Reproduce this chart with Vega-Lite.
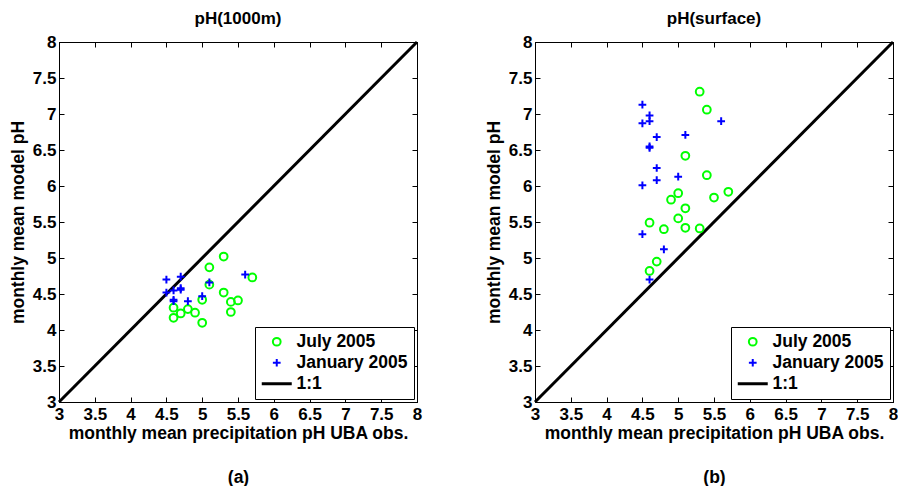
{
  "$schema": "https://vega.github.io/schema/vega-lite/v6.json",
  "autosize": {"type": "pad"},
  "padding": {"left": 8, "top": 9, "right": 0, "bottom": 0},
  "spacing": 60,
  "datasets": {
    "a": [
      {"obs": 5.3, "model": 5.02, "series": "July 2005"},
      {"obs": 5.1, "model": 4.87, "series": "July 2005"},
      {"obs": 5.7, "model": 4.73, "series": "July 2005"},
      {"obs": 5.1, "model": 4.63, "series": "July 2005"},
      {"obs": 5.3, "model": 4.52, "series": "July 2005"},
      {"obs": 5.4, "model": 4.39, "series": "July 2005"},
      {"obs": 5.5, "model": 4.41, "series": "July 2005"},
      {"obs": 5.4, "model": 4.25, "series": "July 2005"},
      {"obs": 5.0, "model": 4.42, "series": "July 2005"},
      {"obs": 4.6, "model": 4.31, "series": "July 2005"},
      {"obs": 4.6, "model": 4.17, "series": "July 2005"},
      {"obs": 4.7, "model": 4.23, "series": "July 2005"},
      {"obs": 4.8, "model": 4.29, "series": "July 2005"},
      {"obs": 4.9, "model": 4.24, "series": "July 2005"},
      {"obs": 5.0, "model": 4.10, "series": "July 2005"},
      {"obs": 4.5, "model": 4.70, "series": "January 2005"},
      {"obs": 4.7, "model": 4.74, "series": "January 2005"},
      {"obs": 4.5, "model": 4.52, "series": "January 2005"},
      {"obs": 4.6, "model": 4.55, "series": "January 2005"},
      {"obs": 4.7, "model": 4.58, "series": "January 2005"},
      {"obs": 4.6, "model": 4.40, "series": "January 2005"},
      {"obs": 4.8, "model": 4.40, "series": "January 2005"},
      {"obs": 5.1, "model": 4.66, "series": "January 2005"},
      {"obs": 5.0, "model": 4.47, "series": "January 2005"},
      {"obs": 5.6, "model": 4.77, "series": "January 2005"},
      {"obs": 4.6, "model": 4.42, "series": "January 2005"},
      {"obs": 4.7, "model": 4.56, "series": "January 2005"}
    ],
    "b": [
      {"obs": 5.3, "model": 7.31, "series": "July 2005"},
      {"obs": 5.4, "model": 7.06, "series": "July 2005"},
      {"obs": 5.1, "model": 6.42, "series": "July 2005"},
      {"obs": 5.4, "model": 6.15, "series": "July 2005"},
      {"obs": 5.7, "model": 5.92, "series": "July 2005"},
      {"obs": 5.5, "model": 5.84, "series": "July 2005"},
      {"obs": 5.0, "model": 5.90, "series": "July 2005"},
      {"obs": 4.9, "model": 5.81, "series": "July 2005"},
      {"obs": 5.1, "model": 5.69, "series": "July 2005"},
      {"obs": 5.0, "model": 5.55, "series": "July 2005"},
      {"obs": 4.6, "model": 5.49, "series": "July 2005"},
      {"obs": 4.8, "model": 5.40, "series": "July 2005"},
      {"obs": 5.1, "model": 5.42, "series": "July 2005"},
      {"obs": 5.3, "model": 5.41, "series": "July 2005"},
      {"obs": 4.7, "model": 4.95, "series": "July 2005"},
      {"obs": 4.6, "model": 4.82, "series": "July 2005"},
      {"obs": 4.5, "model": 7.13, "series": "January 2005"},
      {"obs": 4.6, "model": 6.98, "series": "January 2005"},
      {"obs": 4.5, "model": 6.87, "series": "January 2005"},
      {"obs": 4.6, "model": 6.90, "series": "January 2005"},
      {"obs": 4.7, "model": 6.68, "series": "January 2005"},
      {"obs": 5.1, "model": 6.71, "series": "January 2005"},
      {"obs": 5.6, "model": 6.90, "series": "January 2005"},
      {"obs": 4.6, "model": 6.53, "series": "January 2005"},
      {"obs": 4.6, "model": 6.55, "series": "January 2005"},
      {"obs": 4.7, "model": 6.25, "series": "January 2005"},
      {"obs": 4.7, "model": 6.08, "series": "January 2005"},
      {"obs": 5.0, "model": 6.13, "series": "January 2005"},
      {"obs": 4.5, "model": 6.01, "series": "January 2005"},
      {"obs": 4.5, "model": 5.33, "series": "January 2005"},
      {"obs": 4.8, "model": 5.12, "series": "January 2005"},
      {"obs": 4.6, "model": 4.70, "series": "January 2005"}
    ],
    "diag": [
      {"obs": 3, "model": 3, "series": "1:1"},
      {"obs": 8, "model": 8, "series": "1:1"}
    ]
  },
  "resolve": {"legend": {"color": "independent", "shape": "independent"}, "scale": {"color": "independent", "shape": "independent"}},
  "hconcat": [
    {
      "width": 358, "height": 360,
      "title": "pH(1000m)",
      "resolve": {"axis": {"x": "independent", "y": "independent"}},
      "layer": [
        {
          "data": {"name": "diag"},
          "mark": {"type": "line", "strokeWidth": 3},
          "encoding": {
            "x": {"field": "obs", "type": "quantitative", "scale": {"domain": [3, 8], "nice": false, "zero": false},
                  "axis": {"orient": "bottom", "values": [3, 3.5, 4, 4.5, 5, 5.5, 6, 6.5, 7, 7.5, 8], "format": "~g", "title": ["monthly mean precipitation pH UBA obs.", "(a)"], "titleLineHeight": 44}},
            "y": {"field": "model", "type": "quantitative", "scale": {"domain": [3, 8], "nice": false, "zero": false},
                  "axis": {"orient": "left", "values": [3, 3.5, 4, 4.5, 5, 5.5, 6, 6.5, 7, 7.5, 8], "format": "~g", "title": "monthly mean model pH"}},
            "color": {"field": "series", "type": "nominal",
                      "scale": {"domain": ["July 2005", "January 2005", "1:1"], "range": ["#00ff00", "#0000ff", "#000000"]},
                      "legend": {"symbolSize": 60, "symbolOffset": 7, "labelOffset": 11, "encode": {"symbols": {"update": {"size": {"signal": "datum.value === '1:1' ? 900 : 60"}, "strokeWidth": {"signal": "datum.value === '1:1' ? 3 : 2"}}}}}}
          }
        },
        {
          "data": {"name": "a"},
          "mark": {"type": "point", "filled": false, "strokeWidth": 2, "size": 60, "opacity": 1},
          "encoding": {
            "x": {"field": "obs", "type": "quantitative", "axis": {"orient": "top", "values": [3, 3.5, 4, 4.5, 5, 5.5, 6, 6.5, 7, 7.5, 8], "labels": false, "title": null}},
            "y": {"field": "model", "type": "quantitative", "axis": {"orient": "right", "values": [3, 3.5, 4, 4.5, 5, 5.5, 6, 6.5, 7, 7.5, 8], "labels": false, "title": null}},
            "color": {"field": "series", "type": "nominal",
                      "scale": {"domain": ["July 2005", "January 2005", "1:1"], "range": ["#00ff00", "#0000ff", "#000000"]},
                      "legend": {"symbolSize": 60, "symbolOffset": 7, "labelOffset": 11, "encode": {"symbols": {"update": {"size": {"signal": "datum.value === '1:1' ? 900 : 60"}, "strokeWidth": {"signal": "datum.value === '1:1' ? 3 : 2"}}}}}},
            "shape": {"field": "series", "type": "nominal",
                      "scale": {"domain": ["July 2005", "January 2005", "1:1"], "range": ["circle", "M-1,0H1M0,-1V1", "M-1,0H1"]}}
          }
        }
      ]
    },
    {
      "width": 358, "height": 360,
      "title": "pH(surface)",
      "resolve": {"axis": {"x": "independent", "y": "independent"}},
      "layer": [
        {
          "data": {"name": "diag"},
          "mark": {"type": "line", "strokeWidth": 3},
          "encoding": {
            "x": {"field": "obs", "type": "quantitative", "scale": {"domain": [3, 8], "nice": false, "zero": false},
                  "axis": {"orient": "bottom", "values": [3, 3.5, 4, 4.5, 5, 5.5, 6, 6.5, 7, 7.5, 8], "format": "~g", "title": ["monthly mean precipitation pH UBA obs.", "(b)"], "titleLineHeight": 44}},
            "y": {"field": "model", "type": "quantitative", "scale": {"domain": [3, 8], "nice": false, "zero": false},
                  "axis": {"orient": "left", "values": [3, 3.5, 4, 4.5, 5, 5.5, 6, 6.5, 7, 7.5, 8], "format": "~g", "title": "monthly mean model pH"}},
            "color": {"field": "series", "type": "nominal",
                      "scale": {"domain": ["July 2005", "January 2005", "1:1"], "range": ["#00ff00", "#0000ff", "#000000"]},
                      "legend": {"symbolSize": 60, "symbolOffset": 7, "labelOffset": 11, "encode": {"symbols": {"update": {"size": {"signal": "datum.value === '1:1' ? 900 : 60"}, "strokeWidth": {"signal": "datum.value === '1:1' ? 3 : 2"}}}}}}
          }
        },
        {
          "data": {"name": "b"},
          "mark": {"type": "point", "filled": false, "strokeWidth": 2, "size": 60, "opacity": 1},
          "encoding": {
            "x": {"field": "obs", "type": "quantitative", "axis": {"orient": "top", "values": [3, 3.5, 4, 4.5, 5, 5.5, 6, 6.5, 7, 7.5, 8], "labels": false, "title": null}},
            "y": {"field": "model", "type": "quantitative", "axis": {"orient": "right", "values": [3, 3.5, 4, 4.5, 5, 5.5, 6, 6.5, 7, 7.5, 8], "labels": false, "title": null}},
            "color": {"field": "series", "type": "nominal",
                      "scale": {"domain": ["July 2005", "January 2005", "1:1"], "range": ["#00ff00", "#0000ff", "#000000"]},
                      "legend": {"symbolSize": 60, "symbolOffset": 7, "labelOffset": 11, "encode": {"symbols": {"update": {"size": {"signal": "datum.value === '1:1' ? 900 : 60"}, "strokeWidth": {"signal": "datum.value === '1:1' ? 3 : 2"}}}}}},
            "shape": {"field": "series", "type": "nominal",
                      "scale": {"domain": ["July 2005", "January 2005", "1:1"], "range": ["circle", "M-1,0H1M0,-1V1", "M-1,0H1"]}}
          }
        }
      ]
    }
  ],
  "config": {
    "font": "Liberation Sans",
    "view": {"stroke": "black", "strokeWidth": 1},
    "axis": {
      "domainColor": "black", "tickColor": "black", "grid": false, "tickSize": -5,
      "labelFont": "Liberation Sans", "labelFontWeight": "bold", "labelFontSize": 17, "labelColor": "black",
      "labelFlush": false, "labelOverlap": false,
      "titleFont": "Liberation Sans", "titleFontWeight": "bold", "titleFontSize": 17.5, "titleColor": "black"
    },
    "axisX": {"labelPadding": 9, "titlePadding": 2},
    "axisY": {"labelPadding": 8, "titlePadding": 5},
    "title": {"font": "Liberation Sans", "fontSize": 17, "fontWeight": "bold", "color": "black", "offset": 5},
    "legend": {
      "orient": "bottom-right", "offset": 3, "title": null,
      "strokeColor": "black", "fillColor": "white", "cornerRadius": 0, "padding": 6,
      "rowPadding": 2,
      "labelFont": "Liberation Sans", "labelFontWeight": "bold", "labelFontSize": 17.5, "labelColor": "black"
    }
  }
}
